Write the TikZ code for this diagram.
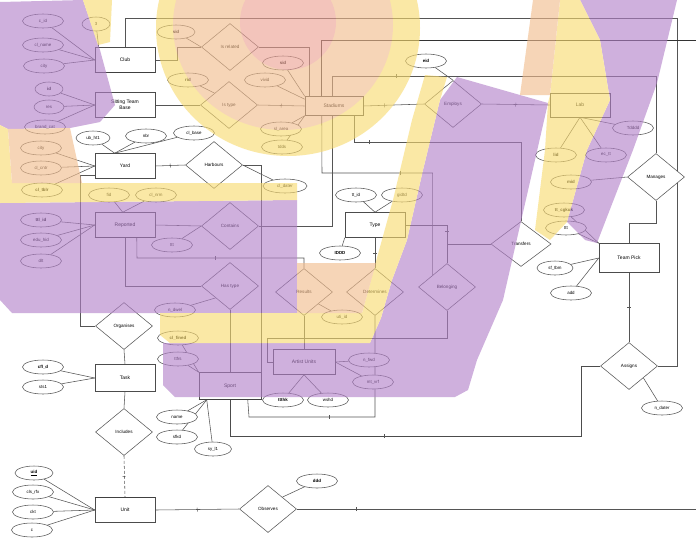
\documentclass[tikz,border=0pt]{standalone}
\usepackage{fontspec}
\setmainfont{Liberation Sans}
\usetikzlibrary{shapes.geometric,decorations.markings}
\pgfdeclarelayer{bg}
\pgfdeclarelayer{fg}
\pgfsetlayers{bg,main,fg}
\definecolor{ovP}{RGB}{178,128,201}
\definecolor{ovY}{RGB}{248,218,110}
\definecolor{ovO}{RGB}{242,188,140}
\definecolor{ovK}{RGB}{236,160,146}
\definecolor{lncol}{RGB}{85,85,85}
\begin{document}
\begin{tikzpicture}[x=1pt,y=-1pt,
  ln/.style={draw=lncol, line width=0.55pt},
  dk/.style={draw=black!80, line width=0.9pt},
  tk/.style={postaction={decorate,decoration={markings,mark=at position #1 with {\draw[lncol,line width=0.5pt] (0pt,-2pt)--(0pt,2pt);}}}},
  ent/.style={draw=black!70, fill=white, line width=0.55pt, minimum width=60pt, minimum height=25pt, inner sep=1pt, align=center, font=\fontsize{5}{5.6}\selectfont},
  rel/.style={diamond, draw=black!65, fill=white, line width=0.55pt, minimum width=57pt, minimum height=47pt, inner sep=0pt, font=\fontsize{4.6}{5}\selectfont},
  att/.style={ellipse, draw=black!65, fill=white, line width=0.55pt, minimum width=41pt, minimum height=14pt, inner sep=0pt, font=\fontsize{4.4}{5}\selectfont},
  heavy/.style={line width=1.3pt, draw=black!75}
]
\useasboundingbox (0,0) rectangle (696,539);

% ---------- entities ----------
\node[ent] (club) at (125,60) {Club};
\node[ent] (stb) at (125,105) {Sitting Team\\Base};
\node[ent] (yard) at (125,166) {Yard};
\node[ent] (rep) at (125,225) {Reported};
\node[ent, minimum width=58pt, minimum height=19pt] (stad) at (334,106) {Stadiums};
\node[ent, minimum height=24pt] (lab) at (580,105) {Lab};
\node[ent] (type) at (375,225) {Type};
\node[ent, minimum height=29pt] (pick) at (629,258) {Team Pick};
\node[ent, minimum height=27pt] (task) at (125,378) {Task};
\node[ent, minimum width=62pt, minimum height=27pt] (sport) at (230,386) {Sport};
\node[ent, minimum width=62pt] (art) at (304,362) {Artist Units};
\node[ent] (unit) at (125,510) {Unit};
\draw[heavy] (club.south west) -- (club.south east);
\draw[heavy] (rep.south west) -- (rep.south east);
\draw[heavy] (sport.south west) -- (sport.south east);
\draw[heavy] (unit.north west) -- (unit.north east);

% ---------- relationships ----------
\node[rel] (r1) at (230,47) {Is related};
\node[rel] (r2) at (229,105) {Is type};
\node[rel] (r3) at (214,165) {Harbours};
\node[rel] (r4) at (230,226) {Contains};
\node[rel] (r5) at (230,286) {Has type};
\node[rel] (r6) at (304,292) {Results};
\node[rel] (r7) at (375,292) {Determines};
\node[rel] (r8) at (447,287) {Belonging};
\node[rel, minimum width=60pt, minimum height=45pt] (r9) at (521,244) {Transfers};
\node[rel] (r10) at (453,104) {Employs};
\node[rel] (r11) at (656,177) {Manages};
\node[rel] (r12) at (629,366) {Assigns};
\node[rel] (r13) at (124,326) {Organises};
\node[rel] (r14) at (124,432) {Includes};
\node[rel] (r15) at (268,509) {Observes};

% ---------- attributes ----------
\node[att] (ca1) at (43,21) {c\_id};
\node[att] (ca2) at (43,45) {cl\_name};
\node[att] (ca3) at (44,66) {city};
\node[att, minimum width=28pt] (ca4) at (96,24) {3};
\node[att, minimum width=28pt] (sa1) at (49,89) {\textbf{id}};
\node[att, minimum width=30pt] (sa2) at (49,107) {res};
\node[att] (sa3) at (45,127) {brand\_cat};
\node[att, minimum width=34pt] (ya1) at (93,138) {ub\_ht1};
\node[att] (ya2) at (146,136) {nbr};
\node[att] (ya3) at (194,133) {cl\_base};
\node[att] (ya4) at (41,148) {city};
\node[att] (ya5) at (41,168) {cl\_cntr};
\node[att] (ya6) at (42,190) {\textbf{cl\_tblr}};
\node[att] (ra1) at (109,195) {fid};
\node[att] (ra2) at (156,195) {cl\_nrm};
\node[att] (ra3) at (41,220) {\textbf{ttl\_id}};
\node[att] (ra4) at (41,240) {edu\_hid};
\node[att] (ra5) at (41,261) {dlt};
\node[att] (r4a) at (172,245) {ttt};
\node[att, minimum width=38pt] (r1a) at (176,32) {\textbf{sid}};
\node[att] (r2a) at (188,80) {\textbf{rid}};
\node[att] (sta1) at (283,63) {\textbf{sid}};
\node[att] (sta2) at (265,80) {vivid};
\node[att] (sta3) at (281,129) {sl\_area};
\node[att] (sta4) at (282,147) {tdds};
\node[att] (r10a) at (426,61) {\textbf{eid}};
\node[att] (la1) at (556,155) {\textbf{lid}};
\node[att] (la2) at (606,155) {ec\_tt};
\node[att] (la3) at (633,128) {Tdddd};
\node[att] (r11a) at (571,182) {\textbf{mid}};
\node[att] (pa1) at (564,210) {\textbf{tt\_cgkuk}};
\node[att] (pa2) at (566,228) {ttt};
\node[att, minimum width=36pt] (pa3) at (555,268) {sf\_tbm};
\node[att] (pa4) at (571,293) {add};
\node[att] (r12a) at (662,408) {n\_dater};
\node[att] (ta1) at (356,195) {tt\_id};
\node[att] (ta2) at (402,195) {gidtd};
\node[att] (ta3) at (340,253) {\textbf{IDDD}};
\node[att, minimum width=44pt] (r3a) at (285,186) {cl\_dater};
\node[att] (r5a) at (175,310) {n\_dwel};
\node[att] (spa1) at (178,338) {\textbf{cl\_fined}};
\node[att] (spa2) at (178,359) {ttfrs};
\node[att] (spa3) at (177,417) {name};
\node[att] (spa4) at (177,437) {sfkd};
\node[att, minimum width=37pt] (spa5) at (213,449) {sy\_l1};
\node[att] (r6a) at (342,317) {uti\_id};
\node[att] (aa1) at (369,360) {n\_fwd};
\node[att] (aa2) at (373,382) {mt\_vrf};
\node[att] (aa3) at (283,400) {\textbf{ttthk}};
\node[att] (aa4) at (328,400) {wshd};
\node[att] (tka1) at (43,367) {\textbf{cfl\_d}};
\node[att] (tka2) at (43,387) {sts1};
\node[att, minimum width=38pt] (ua1) at (34,473) {\underline{\textbf{uid}}};
\node[att] (ua2) at (33,492) {cls\_rfx};
\node[att] (ua3) at (33,512) {ckt};
\node[att] (ua4) at (32,530) {c};
\node[att] (r15a) at (317,481) {\textbf{ddd}};

% ---------- connectors ----------
\begin{pgfonlayer}{bg}
\fill[white] (0,0) rectangle (696,539);
\draw[ln] (club.north) |- (677,18) |- (r12.east);
\draw[dk] ([xshift=17pt]stad.north west) |- (696,40);
\draw[ln,tk=0.2] ([xshift=28pt]stad.north west) |- (656,76) -- (r11.north);
\draw[ln] (r1.east) -| ([xshift=5pt]stad.north west);
\draw[ln] (club.east) -- (177,60) |- (r1.west);
\draw[ln] (stb.east) -- (r2.west);
\draw[ln,tk=0.5] (r2.east) -- (stad.west);
\draw[ln,tk=0.35] (stad.east) -- (r10.west);
\draw[ln,tk=0.5] (r10.east) -- (lab.west);
\draw[ln,tk=0.15] ([xshift=50pt]stad.south west) |- (521,142) -- (r9.north);
\draw[ln,tk=0.5] ([xshift=17pt]stad.south west) -- (322,173) -| (r8.north west);
\draw[ln] ([xshift=28pt]stad.south west) |- (r4.east);
\draw[ln] (rep.east) -- (r4.west);
\draw[ln,tk=0.5] (yard.east) -- (r3.west);
\draw[ln] (r3.east) -| (sport.north east);
\draw[ln,tk=0.5] ([xshift=42pt]rep.south west) -- (137,258) -| (r6.north);
\draw[ln] (rep.south) |- (r5.west);
\draw[ln] ([yshift=-9pt]yard.west) -- (80,175) |- (r13.west);
\draw[ln] (r13.south) -- (task.north);
\draw[ln] (task.south) -- (r14.north);
\draw[ln,densely dashed,tk=0.5] (r14.south) -- (unit.north);
\draw[ln,tk=0.5] (unit.east) -- (r15.west);
\draw[ln,tk=0.15] (r15.east) -- (696,509);
\draw[ln,tk=0.5] (type.south) -- (r7.north);
\draw[ln,tk=0.6] (type.east) -| (r8.north);
\draw[ln] (r9.west) -- (447,244);
\draw[ln] (r6.south) -- (art.north);
\draw[ln] (r8.south) |- (267,338) |- (art.west);
\draw[ln,tk=0.6] (r7.south) |- (249,417) -- ([xshift=49pt]sport.south west);
\draw[line width=1pt, draw=black!70,tk=0.4] (sport.south) |- (581,436) |- (r12.west);
\draw[ln] (r5.south) -- (sport.north);
\draw[ln] (r11.south) -- (656,223) -| (pick.north);
\draw[ln,tk=0.5] (pick.south) -- (r12.north);
% attribute links
\foreach \a in {ca1,ca2,ca3} \draw[ln] (\a) -- (club.west);
\draw[ln] (ca4) -- ([xshift=4pt]club.north west);
\foreach \a in {sa1,sa2,sa3} \draw[ln] (\a) -- (stb.west);
\foreach \a in {ya1,ya2,ya3} \draw[ln] (\a) -- ([xshift=20pt]yard.north west);
\foreach \a in {ya4,ya5,ya6} \draw[ln] (\a) -- (yard.west);
\foreach \a in {ra1,ra2} \draw[ln] (\a) -- ([xshift=28pt]rep.north west);
\foreach \a in {ra3,ra4,ra5} \draw[ln] (\a) -- (rep.west);
\draw[ln] (r4a) -- (r4.west);
\draw[ln] (r1a) -- (r1.west);
\draw[ln] (r2a) -- (r2.north west);
\draw[ln] (sta1) -- (stad.north west);
\draw[ln] (sta2) -- ([yshift=-3pt]stad.north west);
\foreach \a in {sta3,sta4} \draw[ln] (\a) -- (stad.south west);
\draw[ln] (r10a) -- (r10.north);
\foreach \a in {la1,la2,la3} \draw[ln] (\a) -- (lab.south);
\draw[ln] (r11a) -- (r11.west);
\foreach \a in {pa1,pa2} \draw[ln] (\a) -- (pick.north west);
\foreach \a in {pa3,pa4} \draw[ln] (\a) -- (pick.west);
\draw[ln] (r12a) -- (r12.south east);
\foreach \a in {ta1,ta2} \draw[ln] (\a) -- (type.north);
\draw[ln] (ta3) -- (type.south west);
\draw[ln] (r3a) -- (r3.east);
\draw[ln] (r5a) -- (r5.south west);
\foreach \a in {spa1,spa2} \draw[ln] (\a) -- (sport.north west);
\foreach \a in {spa3,spa4,spa5} \draw[ln] (\a) -- ([xshift=8pt]sport.south west);
\draw[ln] (r6a) -- (r6.south east);
\foreach \a in {aa1,aa2} \draw[ln] (\a) -- (art.east);
\foreach \a in {aa3,aa4} \draw[ln] (\a) -- (art.south);
\foreach \a in {tka1,tka2} \draw[ln] (\a) -- (task.west);
\foreach \a in {ua1,ua2,ua3,ua4} \draw[ln] (\a) -- (unit.west);
\draw[ln] (r15a) -- (r15.north east);
\end{pgfonlayer}

% ---------- highlight overlay ----------
\begin{pgfonlayer}{fg}
\begin{scope}[transparency group, opacity=0.62]
% purple
\fill[ovP] (0,2) -- (83,0) -- (100,50) -- (115,105) -- (100,122) -- (70,128) -- (8,129) -- (0,125) -- cycle;
\fill[ovP] (0,203) -- (297,200) -- (297,313) -- (12,313) -- (0,300) -- cycle;
\fill[ovP] (163,343) -- (370,343) -- (381,318) -- (392,280) -- (407,240) -- (423,170) -- (440,100) -- (457,77) -- (548,103) -- (503,300) -- (477,360) -- (468,390) -- (455,397) -- (175,397) -- (163,385) -- cycle;
\fill[ovP] (580,0) -- (677,0) -- (657,83) -- (633,150) -- (607,217) -- (597,243) -- (585,240) -- (567,222) -- (587,150) -- (610,100) -- (600,40) -- cycle;
% yellow
\fill[ovY] (83,0) -- (112,0) -- (110,42) -- (98,45) -- cycle;
\fill[ovY] (0,125) -- (8,129) -- (12,183) -- (0,183) -- cycle;
\fill[ovY] (0,183) -- (297,183) -- (297,200) -- (0,203) -- cycle;
\fill[ovY] (160,313) -- (362,313) -- (375,265) -- (393,200) -- (412,120) -- (425,75) -- (447,77) -- (440,100) -- (423,170) -- (407,240) -- (392,280) -- (381,318) -- (370,343) -- (170,343) -- (160,335) -- cycle;
\fill[ovY] (560,0) -- (580,0) -- (600,40) -- (610,100) -- (587,150) -- (567,222) -- (550,240) -- (535,230) -- (545,150) -- (548,103) -- (550,95) -- cycle;
\fill[ovY] (288,28) ellipse [x radius=132pt, y radius=128pt];
% peach / pink
\fill[ovO] (283,25) ellipse [x radius=110pt, y radius=105pt];
\fill[ovK] (288,22) circle [radius=48pt];
\fill[ovO] (297,263) -- (376,263) -- (362,313) -- (297,313) -- cycle;
\fill[ovO] (533,0) -- (560,0) -- (550,95) -- (520,95) -- cycle;
\fill[ovO] (8,129) -- (70,128) -- (82,183) -- (12,183) -- cycle;
\end{scope}
\end{pgfonlayer}
\end{tikzpicture}
\end{document}
